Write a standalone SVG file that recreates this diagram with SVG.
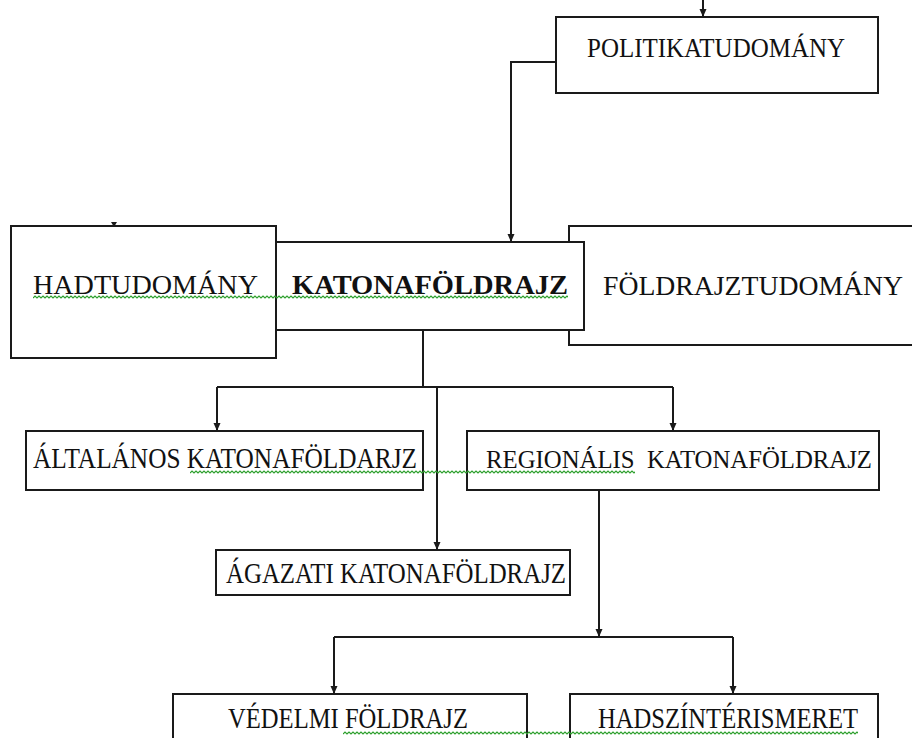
<svg xmlns="http://www.w3.org/2000/svg" width="912" height="738" viewBox="0 0 912 738">
<style>
.box{fill:#fff;stroke:#1a1a1a;stroke-width:2}
.t{font-family:"Liberation Serif","Times New Roman",serif;font-size:28px;fill:#111}
.lo{font-size:29px}
.b{font-weight:bold}
.c{fill:none;stroke:#1a1a1a;stroke-width:2}
.sq{fill:none;stroke:#2ea02e;stroke-width:1.2}
</style>
<defs>
<marker id="ah" viewBox="0 0 8 8" refX="8" refY="4" markerWidth="8" markerHeight="8" markerUnits="userSpaceOnUse" orient="auto">
<path d="M0,0.5 L8,4 L0,7.5 Z" fill="#1a1a1a"/>
</marker>
<path id="zz" class="sq" d="M0,0 l2-2 2 2 2-2 2 2 2-2 2 2 2-2 2 2 2-2 2 2 2-2 2 2 2-2 2 2 2-2 2 2 2-2 2 2 2-2 2 2 2-2 2 2 2-2 2 2 2-2 2 2 2-2 2 2 2-2 2 2 2-2 2 2 2-2 2 2 2-2 2 2 2-2 2 2 2-2 2 2 2-2 2 2 2-2 2 2 2-2 2 2 2-2 2 2 2-2 2 2 2-2 2 2 2-2 2 2 2-2 2 2 2-2 2 2 2-2 2 2 2-2 2 2 2-2 2 2 2-2 2 2 2-2 2 2 2-2 2 2 2-2 2 2 2-2 2 2 2-2 2 2 2-2 2 2 2-2 2 2 2-2 2 2 2-2 2 2 2-2 2 2 2-2 2 2 2-2 2 2 2-2 2 2 2-2 2 2 2-2 2 2 2-2 2 2 2-2 2 2 2-2 2 2 2-2 2 2 2-2 2 2 2-2 2 2 2-2 2 2 2-2 2 2 2-2 2 2 2-2 2 2 2-2 2 2 2-2 2 2 2-2 2 2 2-2 2 2 2-2 2 2 2-2 2 2 2-2 2 2 2-2 2 2 2-2 2 2 2-2 2 2 2-2 2 2 2-2 2 2 2-2 2 2 2-2 2 2 2-2 2 2 2-2 2 2 2-2 2 2 2-2 2 2 2-2 2 2 2-2 2 2 2-2 2 2 2-2 2 2 2-2 2 2 2-2 2 2 2-2 2 2 2-2 2 2 2-2 2 2 2-2 2 2 2-2 2 2 2-2 2 2 2-2 2 2 2-2 2 2 2-2 2 2 2-2 2 2 2-2 2 2 2-2 2 2 2-2 2 2 2-2 2 2 2-2 2 2 2-2 2 2 2-2 2 2 2-2 2 2 2-2 2 2 2-2 2 2 2-2 2 2 2-2 2 2 2-2 2 2 2-2 2 2 2-2 2 2 2-2 2 2 2-2 2 2 2-2 2 2 2-2 2 2 2-2 2 2 2-2 2 2 2-2 2 2 2-2 2 2 2-2 2 2 2-2 2 2 2-2 2 2 2-2 2 2 2-2 2 2 2-2 2 2 2-2 2 2 2-2 2 2 2-2 2 2 2-2 2 2 2-2 2 2 2-2 2 2 2-2 2 2 2-2 2 2 2-2 2 2 2-2 2 2 2-2 2 2 2-2 2 2 2-2 2 2 2-2 2 2 2-2 2 2 2-2 2 2 2-2 2 2 2-2 2 2 2-2 2 2 2-2 2 2 2-2 2 2 2-2 2 2 2-2 2 2"/>
<clipPath id="c1"><rect x="33" y="290" width="535" height="12"/></clipPath>
<clipPath id="c2"><rect x="190" y="465" width="445" height="12"/></clipPath>
<clipPath id="c3"><rect x="343" y="726" width="515" height="12"/></clipPath>
</defs>
<rect width="912" height="738" fill="#fff"/>

<g id="foldrajztudomany">
<rect class="box" x="569" y="226" width="360" height="119"/>
<text class="t" x="603" y="295" textLength="300" lengthAdjust="spacingAndGlyphs">FÖLDRAJZTUDOMÁNY</text>
</g>
<g id="hadtudomany">
<rect class="box" x="11" y="226" width="265" height="132"/>
<text class="t" x="33" y="294" textLength="225" lengthAdjust="spacingAndGlyphs">HADTUDOMÁNY</text>
</g>
<g id="katonafoldrajz">
<rect class="box" x="276" y="242" width="308" height="88"/>
<text class="t b" x="292" y="294" textLength="276" lengthAdjust="spacingAndGlyphs">KATONAFÖLDRAJZ</text>
</g>
<g id="politikatudomany">
<rect class="box" x="556" y="17" width="322" height="76"/>
<text class="t" x="587" y="57" textLength="258" lengthAdjust="spacingAndGlyphs">POLITIKATUDOMÁNY</text>
</g>
<g id="altalanos">
<rect class="box" x="26" y="431" width="397" height="59"/>
<text class="t lo" x="33" y="468" textLength="384" lengthAdjust="spacingAndGlyphs">ÁLTALÁNOS KATONAFÖLDARJZ</text>
</g>
<g id="regionalis">
<rect class="box" x="467" y="431" width="412" height="59"/>
<text class="t" style="font-size:26px" x="486" y="468" textLength="386" lengthAdjust="spacingAndGlyphs">REGIONÁLIS&#160; KATONAFÖLDRAJZ</text>
</g>
<g id="agazati">
<rect class="box" x="216" y="550" width="354" height="45"/>
<text class="t lo" x="226" y="583" textLength="340" lengthAdjust="spacingAndGlyphs">ÁGAZATI KATONAFÖLDRAJZ</text>
</g>
<g id="vedelmi">
<rect class="box" x="173" y="694" width="354" height="70"/>
<text class="t lo" x="228" y="728" textLength="240" lengthAdjust="spacingAndGlyphs">VÉDELMI FÖLDRAJZ</text>
</g>
<g id="hadszinter">
<rect class="box" x="570" y="694" width="308" height="70"/>
<text class="t lo" x="598" y="728" textLength="260" lengthAdjust="spacingAndGlyphs">HADSZÍNTÉRISMERET</text>
</g>

<g id="connectors">
<path class="c" d="M703,0 V17" marker-end="url(#ah)"/>
<path class="c" d="M556,62 H511 V242" marker-end="url(#ah)"/>
<path class="c" d="M423,330 V387"/>
<path class="c" d="M217,387 H673"/>
<path class="c" d="M217,387 V431" marker-end="url(#ah)"/>
<path class="c" d="M673,387 V431" marker-end="url(#ah)"/>
<path class="c" d="M437,387 V550" marker-end="url(#ah)"/>
<path class="c" d="M599,490 V637" marker-end="url(#ah)"/>
<path class="c" d="M334,637 H733"/>
<path class="c" d="M334,637 V694" marker-end="url(#ah)"/>
<path class="c" d="M733,637 V694" marker-end="url(#ah)"/>
<path d="M111,222 L117,222 L114,227 Z" fill="#1a1a1a"/>
</g>

<g id="squiggles">
<g clip-path="url(#c1)"><use href="#zz" x="33" y="298"/></g>
<g clip-path="url(#c2)"><use href="#zz" x="190" y="473"/></g>
<g clip-path="url(#c3)"><use href="#zz" x="343" y="734"/></g>
</g>
</svg>
